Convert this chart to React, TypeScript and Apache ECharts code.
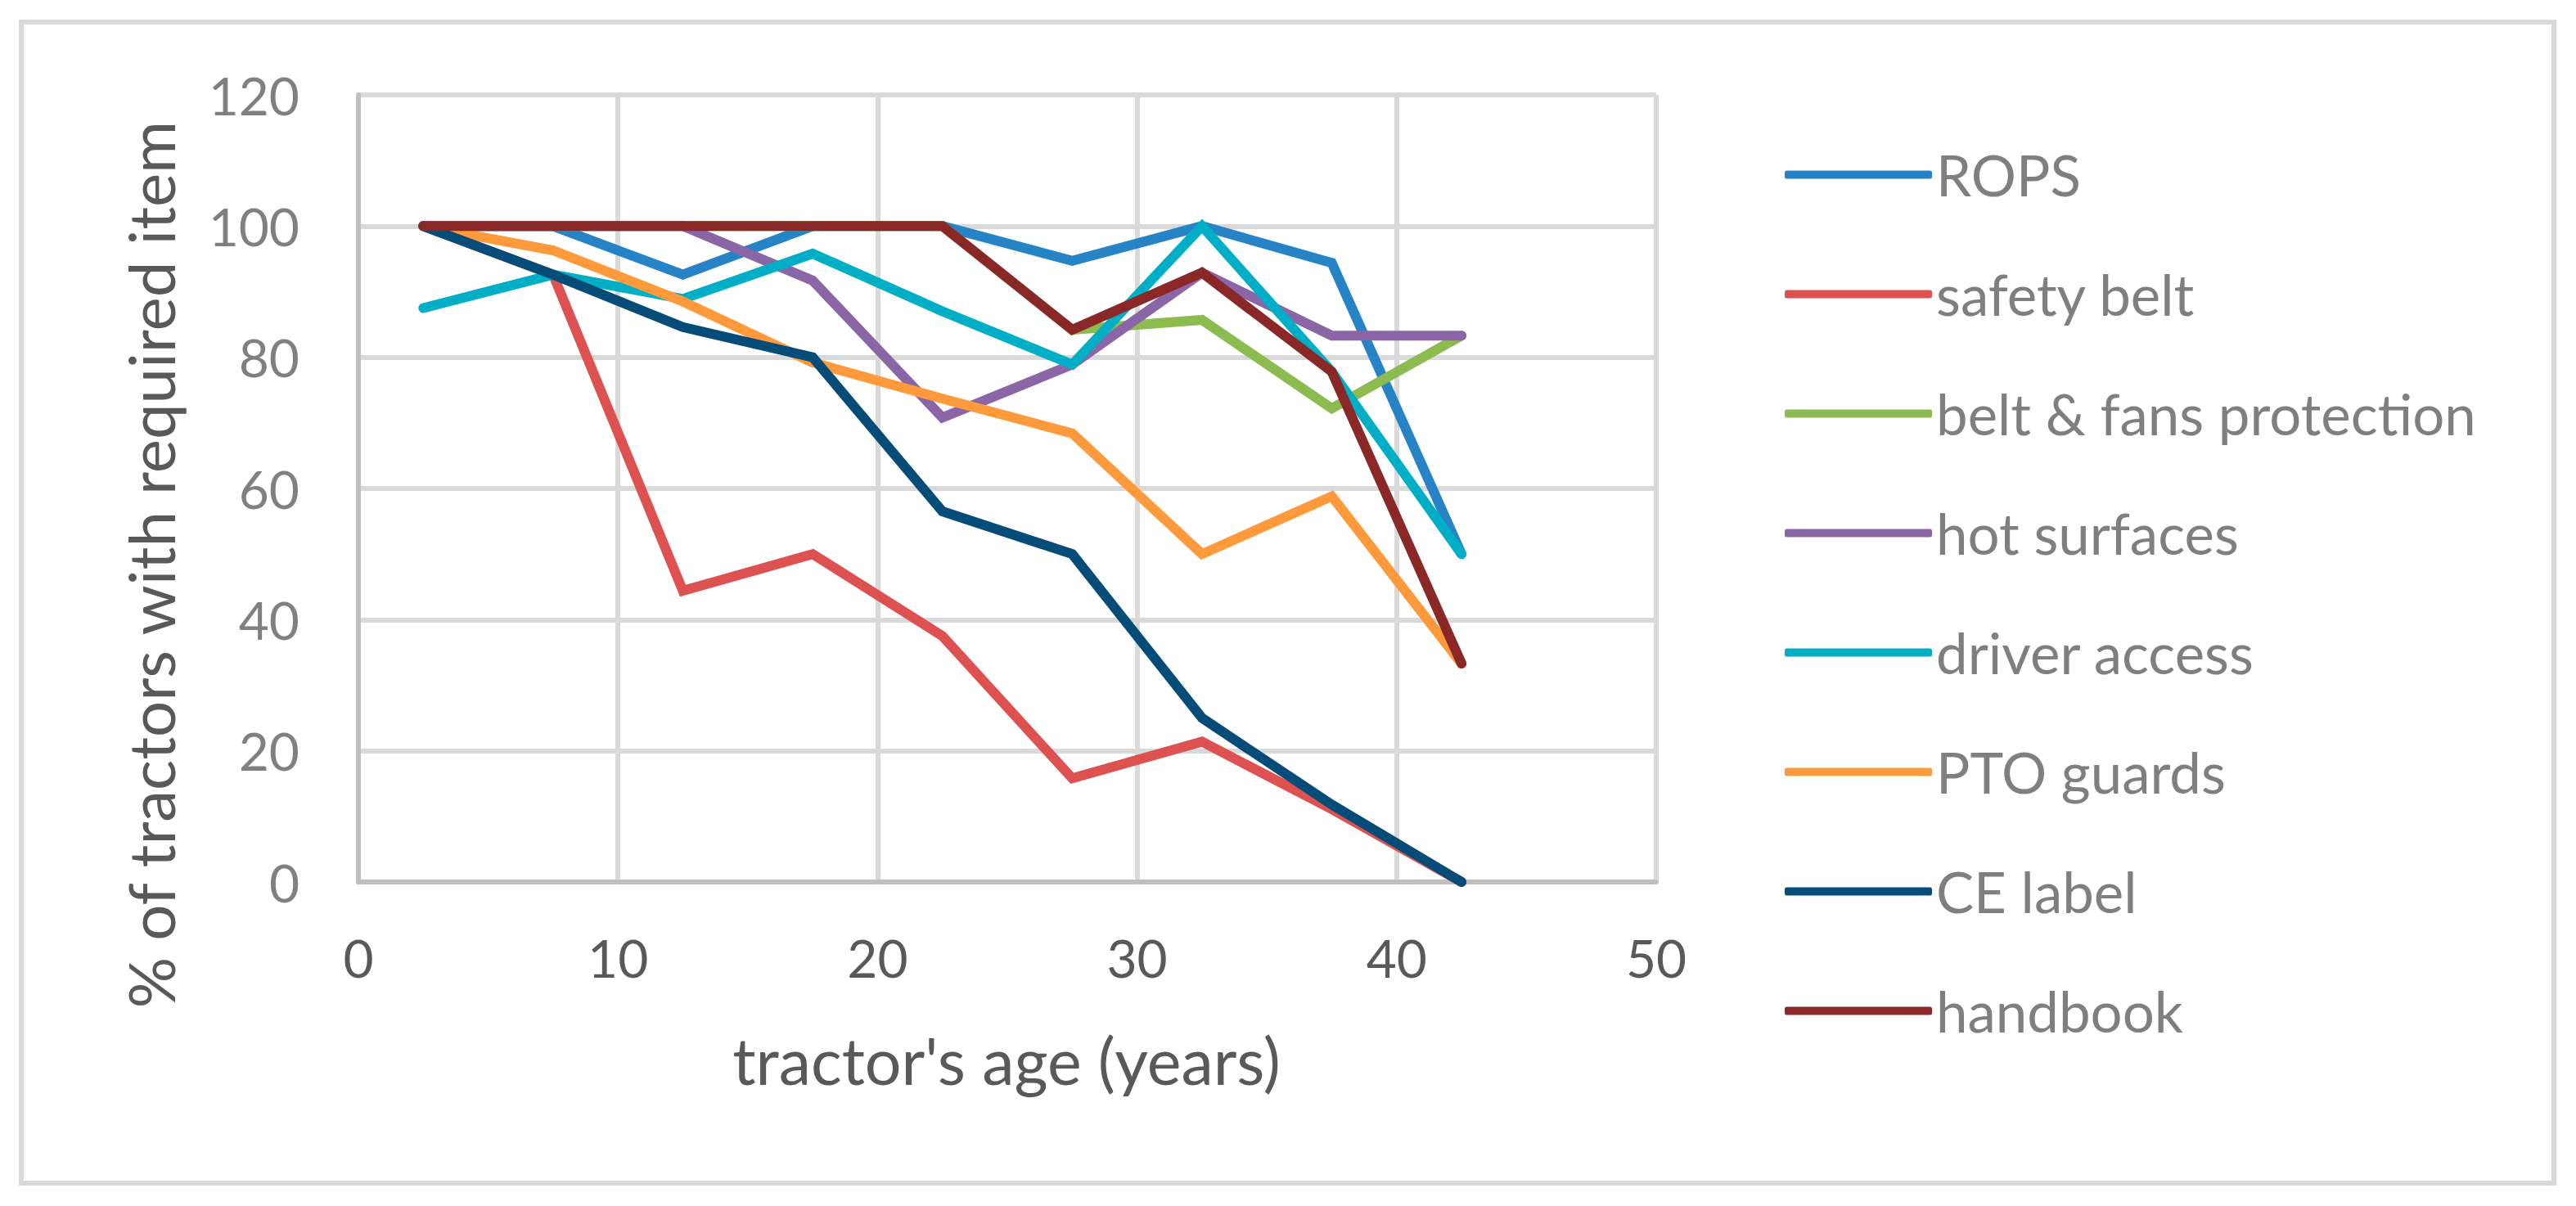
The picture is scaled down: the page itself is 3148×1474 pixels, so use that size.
import React, { useEffect, useRef } from "react";
import * as echarts from "echarts";

const ages = [2.5, 7.5, 12.5, 17.5, 22.5, 27.5, 32.5, 37.5, 42.5];

const seriesNames = [
  "ROPS",
  "safety belt",
  "belt & fans protection",
  "hot surfaces",
  "driver access",
  "PTO guards",
  "CE label",
  "handbook",
];

const seriesColors = [
  "#2683C6",
  "#DD5151",
  "#8CBB4F",
  "#8B66A6",
  "#00AEC6",
  "#FE9A3C",
  "#054D78",
  "#8A2828",
];

const rops = [100, 100, 92.6, 100, 100, 94.7, 100, 94.4, 50];
const safetyBelt = [100, 92.6, 44.4, 50, 37.5, 15.8, 21.4, 11.1, 0];
const beltFans = [100, 100, 100, 100, 100, 84.2, 85.7, 72.2, 83.3];
const hotSurfaces = [100, 100, 100, 91.7, 70.8, 78.9, 92.9, 83.3, 83.3];
const driverAccess = [87.5, 92.6, 88.9, 95.8, 87.0, 78.9, 100, 77.8, 50];
const ptoGuards = [100, 96.3, 88.5, 79.2, 73.7, 68.4, 50, 58.8, 33.3];
const ceLabel = [100, 92.6, 84.6, 80, 56.5, 50, 25, 11.8, 0];
const handbook = [100, 100, 100, 100, 100, 84.2, 92.9, 77.8, 33.3];

const seriesValues = [rops, safetyBelt, beltFans, hotSurfaces, driverAccess, ptoGuards, ceLabel, handbook];

const xTicks = { min: 0, max: 50, interval: 10 };
const yTicks = { min: 0, max: 120, interval: 20 };

const xAxisTitle = "tractor's age (years)";
const yAxisTitle = "% of tractors with required item";

const FONT = "Lato";

export default function App() {
  const ref = useRef<HTMLDivElement>(null);

  useEffect(() => {
    document.body.style.margin = "0";
    if (!ref.current) return;
    const chart = echarts.init(ref.current, undefined, { renderer: "svg" });

    const series = seriesNames.map((name, i) => ({
      name,
      type: "line",
      data: ages.map((a, j) => [a, seriesValues[i][j]]),
      symbol: "none",
      showSymbol: false,
      z: 2 + i,
      lineStyle: { width: 12, color: seriesColors[i], cap: "round", join: "miter" },
      itemStyle: { color: seriesColors[i] },
    }));

    chart.setOption({
      animation: false,
      backgroundColor: "#FFFFFF",
      color: seriesColors,
      grid: { left: 438, top: 116, right: 1124, bottom: 396, containLabel: false },
      xAxis: {
        type: "value",
        min: xTicks.min,
        max: xTicks.max,
        interval: xTicks.interval,
        axisLine: { show: true, onZero: false, lineStyle: { color: "#BFBFBF", width: 6 } },
        axisTick: { show: false },
        splitLine: { show: true, lineStyle: { color: "#D9D9D9", width: 6 } },
        axisLabel: { color: "#595959", fontFamily: FONT, fontSize: 64, margin: 60 },
      },
      yAxis: {
        type: "value",
        min: yTicks.min,
        max: yTicks.max,
        interval: yTicks.interval,
        axisLine: { show: true, lineStyle: { color: "#BFBFBF", width: 6 } },
        axisTick: { show: false },
        splitLine: { show: true, lineStyle: { color: "#D9D9D9", width: 6 } },
        axisLabel: { color: "#808080", fontFamily: FONT, fontSize: 64, margin: 72 },
      },
      legend: {
        orient: "vertical",
        left: 2176,
        top: 174,
        icon: "roundRect",
        itemWidth: 180,
        itemHeight: 10,
        itemGap: 77,
        data: seriesNames,
        textStyle: { color: "#7F7F7F", fontFamily: FONT, fontSize: 69, lineHeight: 67 },
      },
      graphic: [
        {
          type: "rect",
          shape: { x: 26, y: 27, width: 3095, height: 1419 },
          style: { fill: "none", stroke: "#D9D9D9", lineWidth: 6 },
          silent: true,
        },
        {
          type: "text",
          x: 184,
          y: 690,
          rotation: Math.PI / 2,
          style: {
            text: yAxisTitle,
            fill: "#595959",
            font: `78px ${FONT}`,
            align: "center",
            verticalAlign: "middle",
          },
        },
        {
          type: "text",
          x: 1230,
          y: 1295,
          style: {
            text: xAxisTitle,
            fill: "#595959",
            font: `79px ${FONT}`,
            align: "center",
            verticalAlign: "middle",
          },
        },
      ],
      series,
    });

    return () => chart.dispose();
  }, []);

  return <div ref={ref} style={{ width: 3148, height: 1474 }} />;
}
